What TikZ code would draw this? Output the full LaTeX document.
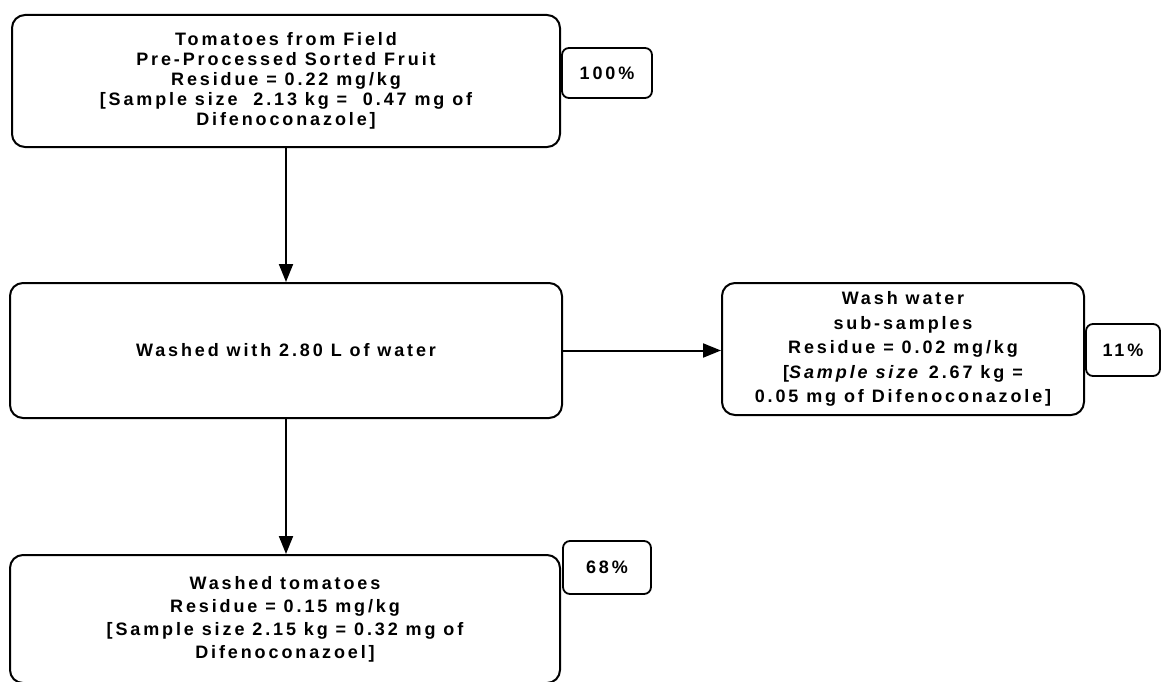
\documentclass[tikz,border=0pt]{standalone}
\usepackage{fontspec}
\setmainfont{Liberation Sans}[LetterSpace=16]
\usetikzlibrary{arrows.meta}
\begin{document}
\begin{tikzpicture}[x=1pt,y=1pt,
  every node/.style={font=\bfseries\fontsize{18}{20}\selectfont},
  stage/.style={draw, line width=2pt, rounded corners=13pt, align=center, inner sep=0pt},
  share/.style={draw, line width=1.8pt, rounded corners=7pt, align=center, inner sep=0pt},
  flow/.style={line width=2pt, -{Triangle[length=18pt,width=14pt]}}]
\useasboundingbox (0,0) rectangle (1169,-682);
% process stages
\node[stage, minimum width=548pt, minimum height=132pt] (field) at (286,-81)
  {Tomatoes from Field\\Pre-Processed Sorted Fruit\\Residue = 0.22 mg/kg\\{}[Sample size\ \ 2.13 kg =\ \ 0.47 mg of\\Difenoconazole]};
\node[share, minimum width=90pt, minimum height=50pt] (p100) at (607,-73) {100\%};
\node[stage, minimum width=552pt, minimum height=135pt] (wash) at (286,-350.5)
  {Washed with 2.80 L of water};
\node[stage, minimum width=362pt, minimum height=132pt,
      font=\bfseries\fontsize{18}{24.5}\selectfont] (water) at (903,-349)
  {\rule{0pt}{6pt}Wash water\\sub-samples\\Residue = 0.02 mg/kg\\{}[\textit{Sample size} 2.67 kg =\\0.05 mg of Difenoconazole]};
\node[share, minimum width=74pt, minimum height=52pt] (p11) at (1123,-350) {11\%};
\node[stage, minimum width=550pt, minimum height=128pt,
      font=\bfseries\fontsize{18}{23}\selectfont] (washed) at (285,-619)
  {Washed tomatoes\\Residue = 0.15 mg/kg\\{}[Sample size 2.15 kg = 0.32 mg of\\Difenoconazoel]};
\node[share, minimum width=88pt, minimum height=53pt] (p68) at (607,-567.5) {68\%};
% connectors
\draw[flow] (field.south) -- (field.south |- wash.north);
\draw[flow] (wash.east) -- (wash.east -| water.west);
\draw[flow] (field.south |- wash.south) -- (field.south |- washed.north);
\end{tikzpicture}
\end{document}
